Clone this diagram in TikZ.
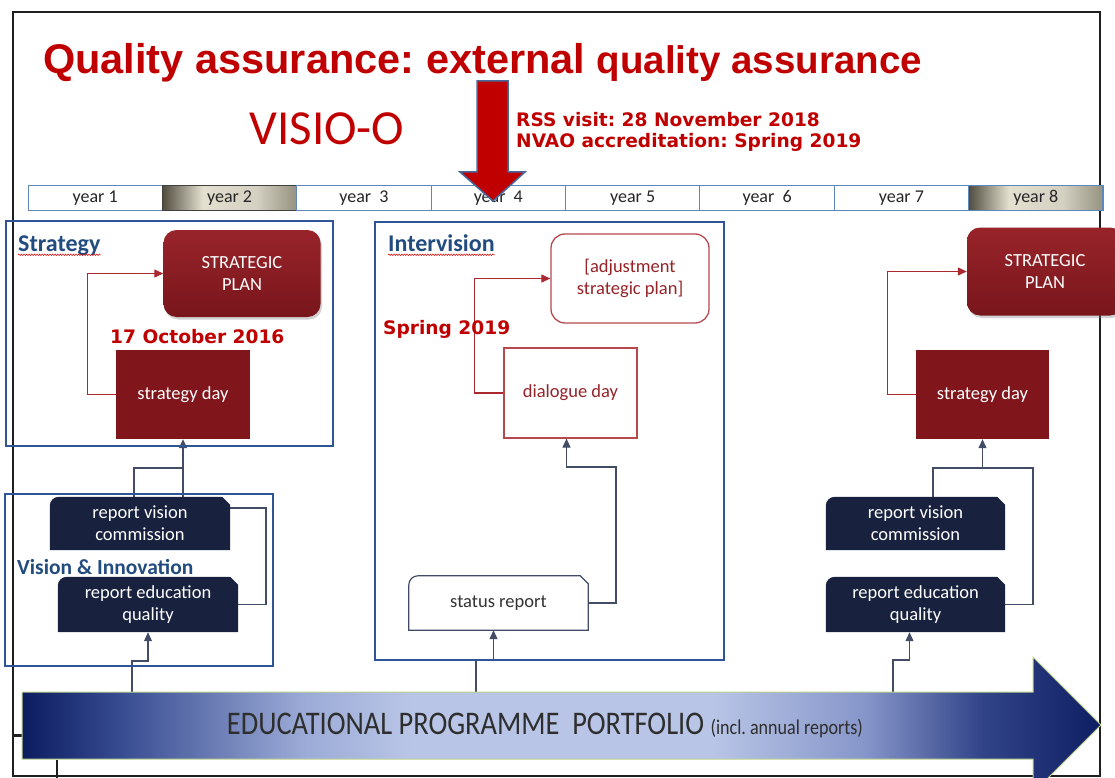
\documentclass[tikz,border=0pt]{standalone}
\usepackage{fontspec}
\setmainfont{Carlito}
\newfontfamily\arialfont{Liberation Sans}
\newfontfamily\verdfont{DejaVu Sans}
\usetikzlibrary{arrows.meta,shadows,decorations.pathmorphing,calc}
\frenchspacing

% colours
\definecolor{qred}{RGB}{192,0,0}
\definecolor{boxred}{RGB}{128,22,28}
\definecolor{planredtop}{RGB}{152,36,42}
\definecolor{planredbot}{RGB}{120,22,28}
\definecolor{navy}{RGB}{24,34,62}
\definecolor{wire}{RGB}{66,76,102}
\definecolor{frameblue}{RGB}{47,85,151}
\definecolor{labblue}{RGB}{34,75,128}
\definecolor{redline}{RGB}{170,40,46}
\definecolor{redtext}{RGB}{150,35,40}
\definecolor{cellblue}{RGB}{95,135,185}
\definecolor{arrowrim}{RGB}{190,210,140}
\definecolor{bigrim}{RGB}{70,105,155}
\definecolor{metalA}{RGB}{80,76,62}
\definecolor{metalB}{RGB}{228,224,208}
\definecolor{metalC}{RGB}{212,208,194}
\definecolor{metalD}{RGB}{150,146,128}
\definecolor{pfA}{RGB}{12,28,96}
\definecolor{pfB}{RGB}{55,75,145}
\definecolor{pfC}{RGB}{155,170,214}
\definecolor{pfD}{RGB}{184,197,230}
\definecolor{pfE}{RGB}{135,150,202}
\definecolor{pfF}{RGB}{50,68,136}
\definecolor{pfG}{RGB}{14,30,98}

% shadings: the filled path spans the middle band 25bp..75bp
\pgfdeclarehorizontalshading{metal}{100bp}{color(0bp)=(metalA); color(25bp)=(metalA); color(40bp)=(metalB); color(60bp)=(metalC); color(75bp)=(metalD); color(100bp)=(metalD)}
\pgfdeclarehorizontalshading{portfolio}{100bp}{color(0bp)=(pfA); color(25bp)=(pfA); color(29.5bp)=(pfB); color(38bp)=(pfC); color(43bp)=(pfD); color(57bp)=(pfD); color(64bp)=(pfE); color(69.5bp)=(pfF); color(75bp)=(pfG); color(100bp)=(pfG)}

\pgfdeclarelayer{paper}
\pgfdeclarelayer{wires}
\pgfdeclarelayer{shapes}
\pgfsetlayers{paper,wires,shapes,main}

\newcommand\boxfont{\fontsize{18.5}{22}\selectfont}

% box with a rounded top-left corner and a snipped top-right corner
\newcommand\snipshape[2]{%
  \begin{pgfonlayer}{shapes}
    \path[#2] ([yshift=-9pt]#1.north west) arc[start angle=180,end angle=90,radius=9pt]
      -- ([xshift=-8pt]#1.north east) -- ([yshift=-8pt]#1.north east)
      -- (#1.south east) -- (#1.south west) -- cycle;
  \end{pgfonlayer}}

\tikzset{
  cell/.style={draw=cellblue, line width=0.9pt, minimum width=134.4pt, minimum height=25pt,
    inner sep=0pt, font=\fontsize{18}{18}\selectfont, text=black!85},
  metalcell/.style={shade, shading=metal, draw=black!75, line width=1.2pt},
  group/.style={draw=frameblue, line width=1.6pt},
  grouplabel/.style={anchor=base west, inner sep=0pt, text=labblue, font=\bfseries\fontsize{24}{24}\selectfont},
  squig/.style={draw=red!85!black, line width=0.5pt, decorate,
    decoration={snake, amplitude=0.8pt, segment length=2.6pt}},
  datelabel/.style={anchor=base west, inner sep=0pt, text=qred, font=\verdfont\bfseries\fontsize{18.6}{20}\selectfont},
  redbox/.style={fill=boxred, text=white, minimum width=134pt, minimum height=89pt,
    inner sep=0pt, align=center, font=\boxfont},
  planbox/.style={rounded corners=13pt, top color=planredtop, bottom color=planredbot,
    text=white, minimum width=157pt, minimum height=87pt, inner sep=0pt, align=center,
    font=\boxfont, drop shadow={shadow xshift=1.5pt, shadow yshift=-2.5pt, opacity=.35}},
  snipnode/.style={minimum width=179pt, minimum height=54pt, inner sep=0pt, align=center,
    font=\boxfont, text=white},
  navyfill/.style={fill=navy},
  whitesnip/.style={fill=white, draw=wire, line width=1.2pt},
  wirel/.style={draw=wire, line width=1.1pt},
  redwire/.style={draw=redline, line width=1.1pt},
  tip/.style={-{Triangle[length=9pt,width=8pt]}},
}

\begin{document}
\begin{tikzpicture}[x=1pt,y=-1pt]
\useasboundingbox (0,0) rectangle (1115,778);
\begin{pgfonlayer}{paper}
  \fill[white] (0,0) rectangle (1115,778);
\end{pgfonlayer}

% outer frame
\draw[line width=2.6pt, black!88] (13,12) rectangle (1100,776);
\draw[line width=3pt, black!88] (13,735) -- (23,735);
\draw[line width=2pt, black!88] (57,760) -- (57,778);

% heading
\node[anchor=base west, inner sep=0pt, text=qred, font=\arialfont\bfseries] (title) at (43,74)
  {\fontsize{41.5}{41.5}\selectfont Quality assurance: external \fontsize{38.5}{38.5}\selectfont quality assurance};
\node[anchor=base, inner sep=0pt, text=qred, font=\fontsize{49}{49}\selectfont] (visio) at (327,145) {VISIO-O};
\node[datelabel] (rss) at (516,127) {RSS visit: 28 November 2018};
\node[datelabel] (nvao) at (516,148) {NVAO accreditation: Spring 2019};

% year bar
\node[cell] (yr1) at (95.2,198) {year 1};
\node[cell, metalcell] (yr2) at (229.6,198) {year 2};
\node[cell] (yr3) at (363.9,198) {year\ \ 3};
\node[cell] (yr4) at (498.3,198) {year\ \ 4};
\node[cell] (yr5) at (632.7,198) {year 5};
\node[cell] (yr6) at (767.1,198) {year\ \ 6};
\node[cell] (yr7) at (901.4,198) {year 7};
\node[cell, metalcell, draw=cellblue] (yr8) at (1035.8,198) {year 8};

% big downward arrow onto year 4
\draw[fill=qred, draw=bigrim, line width=1.5pt, line join=miter]
  (477,81) -- (508,81) -- (508,172) -- (525,172) -- (493,201) -- (460,172) -- (477,172) -- cycle;

% group frames
\draw[group] (6,221) rectangle (333,446);
\draw[group] (5,494) rectangle (273,666);
\draw[group] (375,222) rectangle (724,660);

\node[grouplabel] (lblS) at (18,251) {Strategy};
\draw[squig] ([yshift=-3.8pt]lblS.base west) -- ([yshift=-3.8pt]lblS.base east);
\node[grouplabel] (lblI) at (388,251) {Intervision};
\draw[squig] ([yshift=-3.8pt]lblI.base west) -- ([yshift=-3.8pt]lblI.base east);
\node[grouplabel, font=\bfseries\fontsize{21.5}{21.5}\selectfont] (lblV) at (17,574) {Vision \& Innovation};

% left column
\node[planbox] (sp1) at (242,273.5) {STRATEGIC\\PLAN};
\node[datelabel] (oct) at (110,343) {17 October 2016};
\node[redbox] (sd1) at (183,394.5) {strategy day};
\node[snipnode, minimum width=180pt, minimum height=53pt] (rv1) at (140,523.5) {report vision\\commission};
\snipshape{rv1}{navyfill}
\node[snipnode, minimum width=180pt, minimum height=55pt] (re1) at (148,604.5) {report education\\quality};
\snipshape{re1}{navyfill}

% middle column
\node[rounded corners=14pt, draw=redline!85, line width=1.3pt, fill=white, text=redtext,
  minimum width=158pt, minimum height=89pt, inner sep=0pt, align=center, font=\boxfont]
  (adj) at (630,278.5) {[adjustment\\strategic plan]};
\node[datelabel] (spr) at (383,334) {Spring 2019};
\node[draw=redline!85, line width=1.2pt, fill=white, text=redtext, minimum width=133pt,
  minimum height=90pt, inner sep=0pt, font=\boxfont] (dd) at (570.5,393) {dialogue day};
\node[snipnode, text=black!80] (st) at (498.5,603) {status report};
\snipshape{st}{whitesnip}

% right column
\node[planbox, minimum width=156pt, minimum height=88pt] (sp2) at (1045,271.5) {STRATEGIC\\PLAN};
\node[redbox, minimum width=133pt] (sd2) at (982.5,394.5) {strategy day};
\node[snipnode, minimum height=53pt] (rv2) at (915.5,523.5) {report vision\\commission};
\snipshape{rv2}{navyfill}
\node[snipnode, minimum height=55pt] (re2) at (915.5,604.5) {report education\\quality};
\snipshape{re2}{navyfill}

% portfolio arrow
\shadedraw[shading=portfolio, draw=arrowrim, line width=1pt, line join=miter]
  (22,692) -- (1033,692) -- (1033,657) -- (1101,725) -- (1033,793) -- (1033,759) -- (22,759) -- cycle;
\node[text=black!82, inner sep=0pt] (pf) at (545,725)
  {\scalebox{0.86}[1]{\fontsize{33}{33}\selectfont EDUCATIONAL PROGRAMME\ \ PORTFOLIO
   \fontsize{21}{21}\selectfont(incl. annual reports)}};
\coordinate (pA) at (132,692);
\coordinate (pB) at (476,692);
\coordinate (pC) at (893,692);

% connectors
\begin{pgfonlayer}{wires}
  % left
  \draw[redwire, tip] (sd1.west) -- ++(-28,0) |- (sp1.west);
  \draw[wirel, tip] (re1.east) -| (266,508) -| (sd1.south);
  \draw[wirel] ([xshift=-6pt]rv1.north) |- (183,468);
  \draw[wirel, tip] (pA) -- (132,661) -| (re1.south);
  % middle
  \draw[redwire, tip] (dd.west) -- ++(-29,0) |- (adj.west);
  \draw[wirel, tip] (st.east) -| (616,467) -| ([xshift=-4pt]dd.south);
  \draw[wirel, tip] (pB) -- (476,660) -| ([xshift=-5pt]st.south);
  % right
  \draw[redwire, tip] (sd2.west) -- ++(-28,0) |- (sp2.west);
  \draw[wirel, tip] (re2.east) -| (1033,468) -| (sd2.south);
  \draw[wirel] ([xshift=17.5pt]rv2.north) |- (983,468);
  \draw[wirel, tip] (pC) -- (893,660) -| ([xshift=-6pt]re2.south);
\end{pgfonlayer}
\end{tikzpicture}
\end{document}
